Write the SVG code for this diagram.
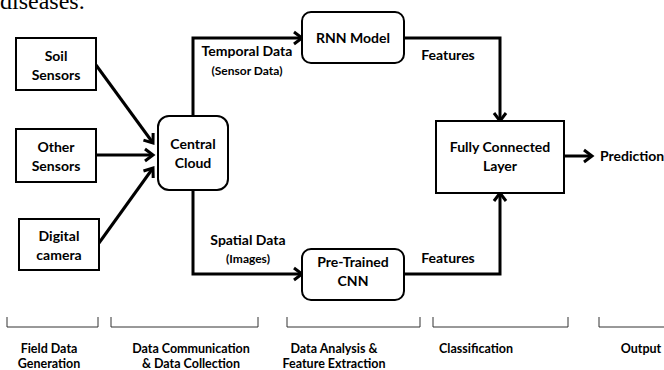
<svg xmlns="http://www.w3.org/2000/svg" width="664" height="370" viewBox="0 0 664 370">
  <defs>
    <style>
      .box { fill: #ffffff; stroke: #000000; stroke-width: 2; }
      .lbl { font-family: Lato, "Open Sans", "Liberation Sans", sans-serif; font-weight: 700; font-size: 14px; fill: #000000; text-anchor: middle; }
      .sub { font-family: Lato, "Open Sans", "Liberation Sans", sans-serif; font-weight: 700; font-size: 12px; fill: #000000; text-anchor: middle; }
      .stage { font-family: Lato, "Open Sans", "Liberation Sans", sans-serif; font-weight: 700; font-size: 12.5px; fill: #000000; text-anchor: middle; }
      .wire { fill: none; stroke: #000000; stroke-width: 3; }
      .brk { fill: none; stroke: #333333; stroke-width: 1; }
    </style>
    <marker id="chev" markerUnits="userSpaceOnUse" markerWidth="14" markerHeight="16" refX="11" refY="8" orient="auto">
      <path d="M3,2 L11,8 L3,14" fill="none" stroke="#000000" stroke-width="3"/>
    </marker>
  </defs>

  <!-- trailing line of the preceding paragraph -->
  <text x="0" y="9" font-family="'Liberation Serif', serif" font-size="24" fill="#000000">diseases.</text>

  <!-- connectors -->
  <g id="connectors">
    <line class="wire" x1="96" y1="65" x2="153" y2="143" marker-end="url(#chev)"/>
    <line class="wire" x1="96" y1="155" x2="153" y2="155" marker-end="url(#chev)"/>
    <line class="wire" x1="99" y1="243" x2="153" y2="168" marker-end="url(#chev)"/>
    <polyline class="wire" points="193,116 193,38 302,38" marker-end="url(#chev)"/>
    <polyline class="wire" points="193,190 193,274 302,274" marker-end="url(#chev)"/>
    <polyline class="wire" points="404,38 500,38 500,121" marker-end="url(#chev)"/>
    <polyline class="wire" points="404,274 500,274 500,193" marker-end="url(#chev)"/>
    <line class="wire" x1="564" y1="156" x2="592" y2="156" marker-end="url(#chev)"/>
    <text class="lbl" x="247" y="56">Temporal Data</text>
    <text class="sub" x="247" y="75">(Sensor Data)</text>
    <text class="lbl" x="248" y="245">Spatial Data</text>
    <text class="sub" x="248" y="263">(Images)</text>
    <text class="lbl" x="448" y="60">Features</text>
    <text class="lbl" x="448" y="263">Features</text>
  </g>

  <!-- nodes -->
  <g id="soil-sensors">
    <rect class="box" x="16" y="38" width="80" height="52"/>
    <text class="lbl" x="56" y="61">Soil</text>
    <text class="lbl" x="56" y="80">Sensors</text>
  </g>
  <g id="other-sensors">
    <rect class="box" x="16" y="129" width="80" height="53"/>
    <text class="lbl" x="56" y="152">Other</text>
    <text class="lbl" x="56" y="171">Sensors</text>
  </g>
  <g id="digital-camera">
    <rect class="box" x="19" y="219" width="80" height="51"/>
    <text class="lbl" x="59" y="241">Digital</text>
    <text class="lbl" x="59" y="260">camera</text>
  </g>
  <g id="central-cloud">
    <rect class="box" x="158" y="116" width="70" height="74" rx="11"/>
    <text class="lbl" x="193" y="149">Central</text>
    <text class="lbl" x="193" y="168">Cloud</text>
  </g>
  <g id="rnn-model">
    <rect class="box" x="302" y="12" width="102" height="51" rx="9"/>
    <text class="lbl" x="353" y="43">RNN Model</text>
  </g>
  <g id="pretrained-cnn">
    <rect class="box" x="302" y="249" width="102" height="51" rx="9"/>
    <text class="lbl" x="353" y="267">Pre-Trained</text>
    <text class="lbl" x="353" y="286">CNN</text>
  </g>
  <g id="fully-connected">
    <rect class="box" x="436" y="121" width="128" height="72"/>
    <text class="lbl" x="500" y="152">Fully Connected</text>
    <text class="lbl" x="500" y="171">Layer</text>
  </g>
  <g id="prediction">
    <text class="lbl" x="600" y="161" style="text-anchor:start">Prediction</text>
  </g>

  <!-- stage brackets -->
  <g id="stages">
    <path class="brk" d="M7,317 V327 H98 V317"/>
    <path class="brk" d="M111,317 V327 H258 V317"/>
    <path class="brk" d="M287,317 V327 H420 V317"/>
    <path class="brk" d="M433,317 V327 H568 V317"/>
    <path class="brk" d="M599,317 V327 H664"/>
    <text class="stage" x="49" y="353">Field Data</text>
    <text class="stage" x="49" y="368">Generation</text>
    <text class="stage" x="191" y="353">Data Communication</text>
    <text class="stage" x="191" y="368">&amp; Data Collection</text>
    <text class="stage" x="334" y="353">Data Analysis &amp;</text>
    <text class="stage" x="334" y="368">Feature Extraction</text>
    <text class="stage" x="476" y="353">Classification</text>
    <text class="stage" x="641" y="353">Output</text>
  </g>
</svg>
